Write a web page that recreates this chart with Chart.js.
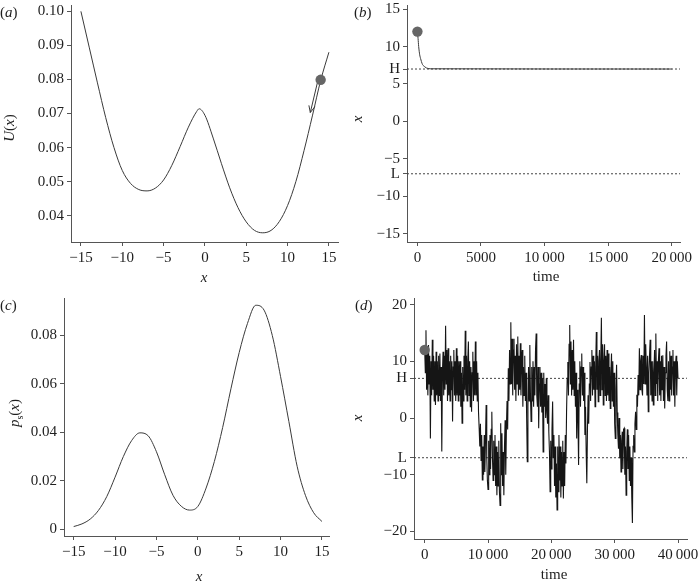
<!DOCTYPE html>
<html><head><meta charset="utf-8">
<script src="https://cdn.jsdelivr.net/npm/chart.js@4.4.1/dist/chart.umd.min.js"></script>
<style>
html,body{margin:0;padding:0;background:#fff;}
#wrap{position:relative;width:700px;height:585px;overflow:hidden;background:#fff;}
canvas{position:absolute;}
</style></head><body>
<div id="wrap">
<canvas id="ca" width="350" height="290" style="left:0;top:0;width:350px;height:290px"></canvas>
<canvas id="cb" width="350" height="290" style="left:350px;top:0;width:350px;height:290px"></canvas>
<canvas id="cc" width="350" height="295" style="left:0;top:290px;width:350px;height:295px"></canvas>
<canvas id="cd" width="350" height="295" style="left:350px;top:290px;width:350px;height:295px"></canvas>
</div>
<script>
// ---------- DATA ----------
// (a) potential U(x)
const potX = [-15,-14,-13,-12,-11,-10,-9,-8,-7,-6,-5,-4,-3,-2,-1,-0.7,0,1,2,3,4,5,6,7,8,9,10,11,12,13,14,15];
const potU = [0.1000,0.0895,0.0790,0.0688,0.0600,0.0533,0.0495,0.0477,0.0473,0.0481,0.0505,0.0548,0.0603,0.0660,0.0706,0.0714,0.0695,0.0628,0.0553,0.0482,0.0424,0.0382,0.0357,0.0350,0.0357,0.0383,0.0430,0.0500,0.0592,0.0693,0.0797,0.0880];
const ballAX = [14], ballAY = [0.0799];
const arrowX = [13.6, 12.75], arrowY = [0.0790, 0.0703];
const arrowHeadX = [13.3, 12.75, 12.58], arrowHeadY = [0.0720, 0.0703, 0.0724];
const aXTicks = [-15,-10,-5,0,5,10,15];
const aXLabels = ['\u221215','\u221210','\u22125','0','5','10','15'];
const aYTicks = [0.04,0.05,0.06,0.07,0.08,0.09,0.10];
const aYLabels = ['0.04','0.05','0.06','0.07','0.08','0.09','0.10'];

// (b) deterministic relaxation
const bTime = [0,50,100,180,250,315,400,500,575,700,840,1000,20000];
const bX    = [12,11.1,10,8.9,8.4,8.0,7.6,7.4,7.3,7.15,7.07,7.03,7.0];
const levelH = 7, levelL = -7;
const ballBT = [0], ballBX = [12];
const bXTicks = [0,5000,10000,15000,20000];
const bXLabels = ['0','5000','10\u2009000','15\u2009000','20\u2009000'];
const bYTicks = [-15,-10,-7,-5,0,5,7,10,15];
const bYLabels = ['\u221215','\u221210','L','\u22125','0','5','H','10','15'];

// (c) stationary density p_s(x)
const psX = [-15,-14,-13,-12,-11,-10,-9,-8,-7,-6,-5,-4,-3,-2,-1,0,1,2,3,4,5,6,7,8,9,10,11,12,13,14,15];
const psY = [0.0011,0.0022,0.0042,0.0078,0.0135,0.0215,0.0300,0.0366,0.0398,0.0386,0.0320,0.0225,0.0140,0.0095,0.0079,0.0094,0.0170,0.0280,0.0420,0.0580,0.0730,0.0850,0.0925,0.0905,0.0800,0.0630,0.0445,0.0260,0.0140,0.0068,0.0032];
const cXTicks = [-15,-10,-5,0,5,10,15];
const cXLabels = ['\u221215','\u221210','\u22125','0','5','10','15'];
const cYTicks = [0,0.02,0.04,0.06,0.08];
const cYLabels = ['0','0.02','0.04','0.06','0.08'];

// (d) noisy trajectory, sampled every 100 time units (0 ... 40000)
const dStep = 100;
const dX = [
12,8,15.5,5,12,4,12.9,6,11,-3.6,
10,4,13.8,5,11,3,10,2.3,11.7,4,
10,3,11,4,11.4,3,9,-5.9,8,11.7,
4,11,5,16.3,6,12,3,12.3,4,10,
3,11,5,10,-0.6,9,12,4,10,3,
12.3,4,11,3,10,4,10,2,8,-0.9,
9,3,11,5,15.4,4,11,3,10,13.5,
4,10,2,9,1.1,8,11.7,3,10,4,
13.5,4,10,3,8,1,-1.8,-5,-1,-7.5,
-3,-10.9,-5,-10,-3,-9.5,-4,2.3,-7,-11,
-12.6,-4,-10,-3,-9,-2,1.1,-7,-11,-4,
-10,-3,-12,-5,-13.6,-6,-12,-4,-13,-15.4,
-0.9,-10,-2.7,-12,-6,-13.6,-5,-0.4,-10,-2,
3,-2,8.8,3,12,6,16.9,6,14,4,
12,14,5,11,3,13,6,14.4,4,11,
5,13.2,4,10,12,2,9,4,11,3,
8,0,-7.7,2,9,3,12.9,4,-0.6,9,
3,10,2,9,4,12,14.9,4,2,9,
-1.8,6,9,2,8,1,7,-6,8,2,
6,0,7,1,-1,4,-2.4,-6,-13,-4,
-9,-2,2.9,-7,-3,-12,-5,-14,-8,-16.2,
-5,-13,-3,-11,-5,-14,-6,-12,-4,-14.2,
-6,-12,-3,-8,1,7,9.9,4,13,16.4,
6,13.5,4,12,5,13.8,4,10,2,8,
-3.6,5,0,-8.3,6,10,2,9,11.4,4,
9,3,8,-3,2,-6,-11.5,-2,4,-1,
6,9.9,3,9,12,4,11,5,10,2,
9,15.2,5,11,2.9,10,12,4,10,17.7,
5,13,2.3,10,13,4,11,3,12,4,
11.4,3,9,1.7,8,11.4,3,10,2,8,
-1,-3.6,5,9.4,1,-3,-5.4,0,-7.1,-3,
-9.5,-4,-2.4,-9,-2,-1.8,-10,-5,-13.6,-6,
-2,-9,-3,-11,-5,-12,-7,-14,-18.5,-5,
-3,-6,-1,1.1,-2,4.1,2,7.6,4,12.3,
5,10,11.1,5,4,11,6,18.2,6,13,
8.8,4,11,1.1,8,11,13.8,4,10,3,
10,2.3,8,12,4,14.9,6,10,3,10,
12.3,4,10,3,11,5,11.1,3,9,1.7,
8,11,13.5,5,3,10,3,11.8,5,11,
4,9,12,4,10,2,9,11,4,10,
7];
const ballDT = [0], ballDX = [12];
const dXTicks = [0,10000,20000,30000,40000];
const dXLabels = ['0','10\u2009000','20\u2009000','30\u2009000','40\u2009000'];
const dYTicks = [-20,-10,-7,0,7,10,20];
const dYLabels = ['\u221220','\u221210','L','0','H','10','20'];

// ---------- STYLE / HELPERS ----------
const FONT = "'Liberation Serif','Times New Roman',serif";
const AXIS = '#555555';
const TXT = '#1e1e1e';
const LINE = '#3a3a3a';
const BALL = '#666666';
const FS = 15;

function pts(xs, ys) { return xs.map((x, i) => ({ x: x, y: ys[i] })); }

function xAxis(min, max, ticks, labels, height) {
  return {
    type: 'linear', position: 'bottom', min: min, max: max,
    grid: { display: true, drawOnChartArea: false, drawTicks: true, tickLength: 4, color: AXIS, lineWidth: 1 },
    border: { display: true, color: AXIS, width: 1 },
    ticks: { color: TXT, font: { family: FONT, size: FS }, padding: 3, maxRotation: 0, minRotation: 0, autoSkip: false,
      callback: (v, i) => labels[i] },
    afterBuildTicks: s => { s.ticks = ticks.map(v => ({ value: v })); },
    afterFit: s => { s.height = height; s.paddingLeft = 0; s.paddingRight = 0; s.paddingTop = 0; s.paddingBottom = 0; }
  };
}
function yAxis(min, max, ticks, labels, width) {
  return {
    type: 'linear', position: 'left', min: min, max: max,
    grid: { display: true, drawOnChartArea: false, drawTicks: true, tickLength: 4, color: AXIS, lineWidth: 1 },
    border: { display: true, color: AXIS, width: 1 },
    ticks: { color: TXT, font: { family: FONT, size: FS }, padding: 3, autoSkip: false,
      callback: (v, i) => labels[i] },
    afterBuildTicks: s => { s.ticks = ticks.map(v => ({ value: v })); },
    afterFit: s => { s.width = width; s.paddingLeft = 0; s.paddingRight = 0; s.paddingTop = 0; s.paddingBottom = 0; }
  };
}
function fontOf(p) { return (p.i ? 'italic ' : '') + (p.s || FS) + 'px ' + FONT; }
const textPlugin = {
  id: 'texts',
  afterDraw(chart, args, opts) {
    const ctx = chart.ctx;
    (opts.items || []).forEach(it => {
      ctx.save();
      ctx.translate(it.x, it.y);
      if (it.rotate) ctx.rotate(-Math.PI / 2);
      ctx.fillStyle = TXT; ctx.textBaseline = 'middle'; ctx.textAlign = 'left';
      let total = 0;
      it.parts.forEach(p => { ctx.font = fontOf(p); total += ctx.measureText(p.t).width; });
      let x = it.align === 'left' ? 0 : -total / 2;
      it.parts.forEach(p => { ctx.font = fontOf(p); ctx.fillText(p.t, x, p.dy || 0); x += ctx.measureText(p.t).width; });
      ctx.restore();
    });
  }
};
function baseOptions(padding, items, scales) {
  return {
    responsive: false, animation: false, devicePixelRatio: 1,
    layout: { padding: padding },
    plugins: { legend: { display: false }, tooltip: { enabled: false }, texts: { items: items } },
    elements: { point: { radius: 0 }, line: { tension: 0 } },
    scales: scales
  };
}
const ballSet = (data) => ({ data: data, showLine: false, pointRadius: 5.2, pointBackgroundColor: BALL, pointBorderWidth: 0 });
const lineSet = (data, extra) => Object.assign({ data: data, borderColor: LINE, borderWidth: 1, pointRadius: 0, fill: false }, extra || {});
const dashSet = (x0, x1, y) => ({ data: [{ x: x0, y: y }, { x: x1, y: y }], borderColor: '#444', borderWidth: 1, borderDash: [2, 2], pointRadius: 0 });

// ---------- (a) ----------
new Chart(document.getElementById('ca'), {
  type: 'line',
  data: { datasets: [
    ballSet(pts(ballAX, ballAY)),
    lineSet(pts(arrowX, arrowY)),
    lineSet(pts(arrowHeadX, arrowHeadY)),
    lineSet(pts(potX, potU), { cubicInterpolationMode: 'monotone' })
  ] },
  options: baseOptions({ left: 0, top: 4, right: 12, bottom: 0 }, [
    { x: 0, y: 13, align: 'left', parts: [{ t: '(' }, { t: 'a', i: 1 }, { t: ')' }] },
    { x: 10, y: 128, rotate: true, parts: [{ t: 'U', i: 1 }, { t: '(' }, { t: 'x', i: 1 }, { t: ')' }] },
    { x: 204, y: 278, parts: [{ t: 'x', i: 1 }] }
  ], {
    x: xAxis(-16.2, 16.1, aXTicks, aXLabels, 48),
    y: yAxis(0.0323, 0.1018, aYTicks, aYLabels, 71)
  }),
  plugins: [textPlugin]
});

// ---------- (b) ----------
new Chart(document.getElementById('cb'), {
  type: 'line',
  data: { datasets: [
    ballSet(pts(ballBT, ballBX)),
    lineSet(pts(bTime, bX), { cubicInterpolationMode: 'monotone' }),
    dashSet(-819, 20654, levelH),
    dashSet(-819, 20654, levelL)
  ] },
  options: baseOptions({ left: 0, top: 3, right: 20, bottom: 0 }, [
    { x: 4, y: 13, align: 'left', parts: [{ t: '(' }, { t: 'b', i: 1 }, { t: ')' }] },
    { x: 8, y: 119, rotate: true, parts: [{ t: 'x', i: 1 }] },
    { x: 196, y: 277, parts: [{ t: 'time' }] }
  ], {
    x: xAxis(-819, 20654, bXTicks, bXLabels, 48),
    y: yAxis(-16.12, 15.53, bYTicks, bYLabels, 57)
  }),
  plugins: [textPlugin]
});

// ---------- (c) ----------
new Chart(document.getElementById('cc'), {
  type: 'line',
  data: { datasets: [
    lineSet(pts(psX, psY), { cubicInterpolationMode: 'monotone' })
  ] },
  options: baseOptions({ left: 0, top: 8, right: 21, bottom: 0 }, [
    { x: 0, y: 16, align: 'left', parts: [{ t: '(' }, { t: 'c', i: 1 }, { t: ')' }] },
    { x: 15, y: 123, rotate: true, parts: [{ t: 'p', i: 1 }, { t: 's', s: 10, dy: 5 }, { t: '(' }, { t: 'x', i: 1 }, { t: ')' }] },
    { x: 199, y: 287, parts: [{ t: 'x', i: 1 }] }
  ], {
    x: xAxis(-16.17, 15.85, cXTicks, cXLabels, 49),
    y: yAxis(-0.0028, 0.0955, cYTicks, cYLabels, 64)
  }),
  plugins: [textPlugin]
});

// ---------- (d) ----------
const dTime = dX.map((v, i) => i * dStep);
new Chart(document.getElementById('cd'), {
  type: 'line',
  data: { datasets: [
    ballSet(pts(ballDT, ballDX)),
    lineSet(pts(dTime, dX), { borderColor: '#151515', borderWidth: 1.1 }),
    dashSet(-1690, 41420, levelH),
    dashSet(-1690, 41420, levelL)
  ] },
  options: baseOptions({ left: 0, top: 8, right: 13, bottom: 0 }, [
    { x: 5, y: 16, align: 'left', parts: [{ t: '(' }, { t: 'd', i: 1 }, { t: ')' }] },
    { x: 8, y: 128, rotate: true, parts: [{ t: 'x', i: 1 }] },
    { x: 204, y: 285, parts: [{ t: 'time' }] }
  ], {
    x: xAxis(-1690, 41420, dXTicks, dXLabels, 46),
    y: yAxis(-21.34, 21.18, dYTicks, dYLabels, 64)
  }),
  plugins: [textPlugin]
});
</script>
</body></html>
